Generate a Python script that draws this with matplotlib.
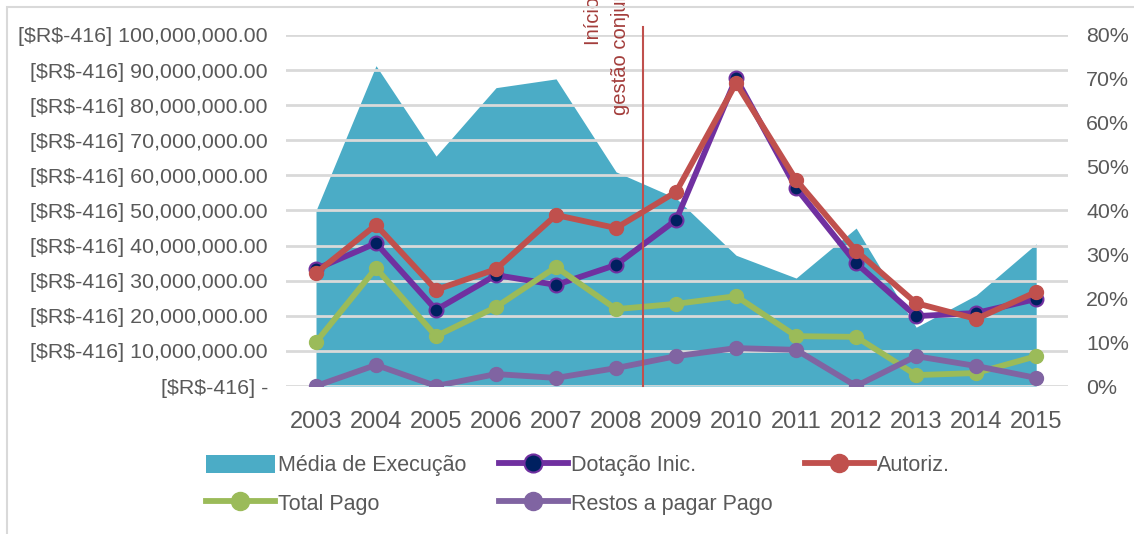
import matplotlib
matplotlib.use("Agg")
from matplotlib import pyplot
from matplotlib.patches import Patch, Rectangle
from matplotlib.lines import Line2D
from matplotlib.ticker import FuncFormatter, MultipleLocator

pyplot.rcParams['font.family'] = ['Liberation Sans', 'DejaVu Sans']

anos = [2003, 2004, 2005, 2006, 2007, 2008, 2009, 2010, 2011, 2012, 2013, 2014, 2015]

# percent (right axis)
media_execucao = [40.0, 73.0, 52.4, 68.0, 70.0, 48.8, 42.8, 29.8, 24.6, 36.0, 13.4, 20.7, 32.4]

# R$ (left axis)
dotacao_inic = [33.3e6, 40.7e6, 21.7e6, 31.6e6, 28.8e6, 34.5e6, 47.3e6, 87.7e6, 56.4e6, 35.0e6, 19.9e6, 20.8e6, 24.8e6]
autoriz = [32.2e6, 45.9e6, 27.4e6, 33.3e6, 48.7e6, 45.0e6, 55.3e6, 86.3e6, 58.7e6, 38.5e6, 23.6e6, 19.1e6, 26.8e6]
total_pago = [12.5e6, 33.6e6, 14.2e6, 22.5e6, 33.9e6, 21.9e6, 23.4e6, 25.6e6, 14.2e6, 14.0e6, 3.1e6, 3.7e6, 8.5e6]
restos_pago = [0.0, 6.0e6, 0.0, 3.4e6, 2.3e6, 5.1e6, 8.5e6, 10.8e6, 10.3e6, 0.0, 8.5e6, 5.7e6, 2.3e6]

inicio_gestao = 2008.45

texto = '#595959'
grade = '#d9d9d9'

fig = pyplot.figure(figsize=(11.34, 5.34), dpi=100)
ax2 = fig.add_axes([286/1134, 148/534, 782/1134, 351/534])
ax = ax2.twinx()
ax.set_zorder(ax2.get_zorder() + 1)
ax.patch.set_visible(False)

# area on the percent axis
ax2.fill_between(anos, media_execucao, 0, color='#4bacc6', linewidth=0)
ax2.set_ylim(0, 80)
ax2.yaxis.set_major_locator(MultipleLocator(10))
ax2.yaxis.set_major_formatter(FuncFormatter(lambda v, p: f'{v:.0f}%'))
ax2.yaxis.tick_right()

def reais(v, p):
    # escaped dollars, otherwise mathtext kicks in
    if v == 0:
        return '[\\$R\\$-416] -'
    return f'[\\$R\\$-416] {v:,.2f}'

ax.set_ylim(0, 100e6)
ax.yaxis.set_major_locator(MultipleLocator(10e6))
ax.yaxis.set_major_formatter(FuncFormatter(reais))
ax.yaxis.tick_left()
ax.grid(axis='y', color=grade, linewidth=2, zorder=1)
ax.set_axisbelow(True)

lw = 4.2
ms = 10
ax.plot(anos, dotacao_inic, color='#7030a0', lw=lw, marker='o', ms=ms,
        markerfacecolor='#002060', markeredgecolor='#7030a0', markeredgewidth=1.5, zorder=3)
ax.plot(anos, autoriz, color='#c0504d', lw=lw, marker='o', ms=ms, zorder=3)
ax.plot(anos, total_pago, color='#9bbb59', lw=lw, marker='o', ms=ms, zorder=3)
ax.plot(anos, restos_pago, color='#8064a2', lw=lw, marker='o', ms=ms, zorder=3)

ax.axvline(inicio_gestao, ymin=0, ymax=(386 - 27) / 351, color='#c0504d', lw=1.5, clip_on=False, zorder=4)
ax.text(2007.63, (386 - 45) / 351, 'Início da', transform=ax.get_xaxis_transform(),
        rotation=90, ha='center', va='bottom', fontsize=14.5, color='#a33d3b', clip_on=False)
ax.text(2008.08, (386 - 115) / 351, 'gestão conjunta', transform=ax.get_xaxis_transform(),
        rotation=90, ha='center', va='bottom', fontsize=14.5, color='#a33d3b', clip_on=False)

ax2.set_xlim(2002.5, 2015.53)
ax2.set_xticks(anos)
for a in (ax, ax2):
    for s in a.spines.values():
        s.set_visible(False)
ax2.tick_params(axis='x', length=0, pad=18, labelsize=17, labelcolor=texto, labelbottom=True)
ax.tick_params(axis='x', length=0)
ax.tick_params(axis='y', length=0, pad=13, labelsize=15.4, labelcolor=texto)
ax2.tick_params(axis='y', length=0, pad=13, labelsize=15.4, labelcolor=texto)

area_h = Patch(facecolor='#4bacc6', edgecolor='none')
dot_h = Line2D([], [], color='#7030a0', lw=lw, marker='o', ms=13,
               markerfacecolor='#002060', markeredgecolor='#7030a0', markeredgewidth=1.5)
aut_h = Line2D([], [], color='#c0504d', lw=lw, marker='o', ms=13)
pago_h = Line2D([], [], color='#9bbb59', lw=lw, marker='o', ms=13)
restos_h = Line2D([], [], color='#8064a2', lw=lw, marker='o', ms=13)

# legend fills column by column, so order so rows read left to right
handles = [area_h, pago_h, dot_h, restos_h, aut_h]
labels = ['Média de Execução', 'Total Pago', 'Dotação Inic.', 'Restos a pagar Pago', 'Autoriz.']
leg = fig.legend(handles, labels, ncol=3, loc='upper left', bbox_to_anchor=(206/1134, 1 - 455/534),
                 frameon=False, fontsize=15.5, handlelength=3.2, handleheight=0.9, handletextpad=0.15,
                 columnspacing=1.5, labelspacing=0.78, borderpad=0, borderaxespad=0)
for t in leg.get_texts():
    t.set_color(texto)

fig.patches.append(Rectangle((7/1134, -0.1), 1.2, 1.1 - 7/534, transform=fig.transFigure,
                             fill=False, edgecolor=grade, linewidth=1.5))

fig.savefig('out.png', dpi=100)
pyplot.close(fig)
